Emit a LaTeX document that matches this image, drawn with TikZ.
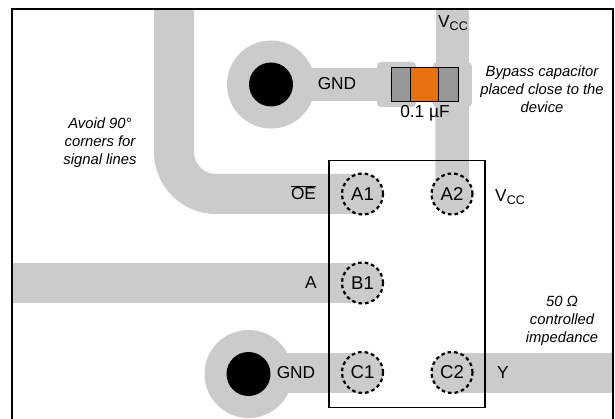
\documentclass[tikz,border=0pt]{standalone}
\usepackage{fontspec}
\setmainfont{Liberation Sans}
\usetikzlibrary{backgrounds}
\definecolor{tracegrey}{HTML}{CBCBCB}
\definecolor{capgrey}{HTML}{979797}
\definecolor{caporange}{HTML}{E8710F}
\newcommand{\vcclabel}{V\raisebox{-3.5pt}{\fontsize{12.5}{12.5}\selectfont CC}}
\tikzset{
  every node/.style={inner sep=0pt,outer sep=0pt},
  lbl/.style={font=\fontsize{17.3}{20}\selectfont},
  note/.style={font=\fontsize{14.8}{18}\selectfont\itshape,align=center},
  trace/.style={draw=tracegrey,line cap=butt},
  thick trace/.style={trace,line width=40pt},
  thin trace/.style={trace,line width=33.5pt},
  pin/.style={circle,minimum size=41pt,fill=tracegrey,draw=black,line width=2.2pt,dash pattern=on 3.6pt off 3pt,font=\fontsize{18.6}{20}\selectfont},
  via/.style={circle,minimum size=88pt,fill=tracegrey},
  hole/.style={circle,minimum size=44pt,fill=black},
  capland/.style={rectangle,rounded corners=4pt,minimum width=39pt,minimum height=45pt,fill=tracegrey},
  capend/.style={rectangle,fill=capgrey,draw=black,line width=1pt,minimum height=33.5pt},
  capmid/.style={rectangle,fill=caporange,draw=black,line width=1pt,minimum height=33.5pt,minimum width=28pt},
  outline/.style={draw=black,line width=1.6pt},
}
\begin{document}
\begin{tikzpicture}[x=1pt,y=-1pt]
\useasboundingbox (0,0) rectangle (615,419);
% free ends
\coordinate (toptl) at (174,9);
\coordinate (cornerc) at (174,194);
\coordinate (leftA) at (12,283);
\coordinate (rightY) at (613,372.5);
\coordinate (topv) at (452.5,9);
\coordinate (fl) at (12,419);
\coordinate (fr) at (613,419);
\coordinate (ftl) at (12,9);
\coordinate (ftr) at (613,9);
% vias
\node[via] (viaT) at (271,84.5) {};
\node[hole] (holeT) at (271,84.5) {};
\node[via] (viaB) at (248.5,374) {};
\node[hole] (holeB) at (248.5,374) {};
% capacitor
\node[capland] (landL) at (396.5,84.5) {};
\node[capland] (landR) at (452.3,84.5) {};
\node[capend,minimum width=20pt] (capL) at (401,84.5) {};
\node[capend,minimum width=20pt] (capR) at (448.5,84.5) {};
\node[capmid] (capM) at (424.7,84.5) {};
% chip
\node[rectangle,outline,minimum width=156pt,minimum height=247pt] (chip) at (407,284) {};
% pins
\node[pin] (A1) at (362.5,194) {A1};
\node[pin] (A2) at (452,194) {A2};
\node[pin] (B1) at (362.5,283) {B1};
\node[pin] (C1) at (362.5,372.5) {C1};
\node[pin] (C2) at (452,372.5) {C2};
% traces
\begin{pgfonlayer}{background}
\fill[white] (0,0) rectangle (615,419);
\draw[thick trace,rounded corners=42pt] (toptl) -- (cornerc) -- (A1.center);
\draw[thick trace] (leftA) -- (B1.center);
\draw[thick trace] (viaB.center |- C1.center) -- (C1.center);
\draw[thick trace] (C2.center) -- (rightY);
\draw[thin trace] (viaT.center) -- (landL.center);
\draw[thin trace] (topv) -- (topv |- landR.center);
\draw[thin trace] (landR.center) -- (A2.center);
\end{pgfonlayer}
% frame
\draw[black,line width=1.7pt] (fl) -- (ftl) -- (ftr) -- (fr);
% labels
\node[lbl] (lgndT) at (337,84) {GND};
\node[lbl] (lval) at (425,113.5) {0.1 µF};
\node[lbl] (lvccT) at (453,23) {\vcclabel};
\node[lbl] (lvccR) at (510,197) {\vcclabel};
\node[lbl] (loe) at (303.5,192.5) {$\overline{\mbox{OE}}$};
\node[lbl] (la) at (311,283) {A};
\node[lbl] (lgndB) at (296,372.5) {GND};
\node[lbl] (ly) at (503,372.5) {Y};
\node[note] (navoid) at (100,143) {Avoid 90°\\corners for\\signal lines};
\node[note] (nbyp) at (542,89) {Bypass capacitor\\placed close to the\\device};
\node[note] (nimp) at (562,321) {50 Ω\\controlled\\impedance};
\end{tikzpicture}
\end{document}
